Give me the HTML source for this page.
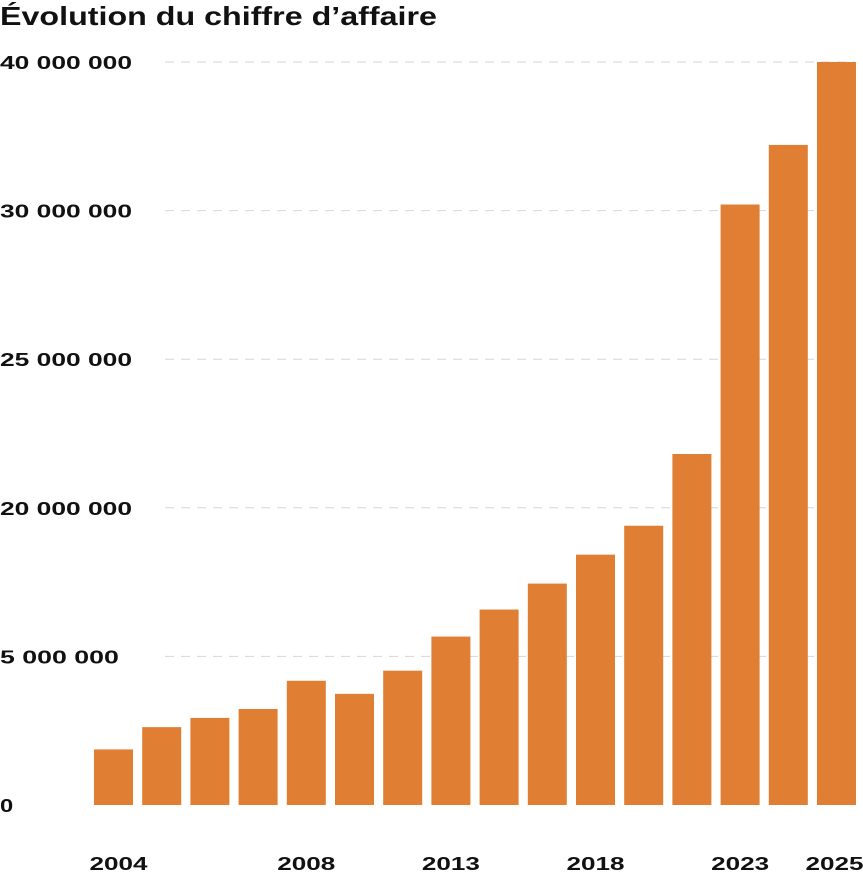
<!DOCTYPE html>
<html><head><meta charset="utf-8"><style>
body{margin:0;background:#fff;font-family:"Liberation Sans",sans-serif}
svg{display:block}
</style></head><body>
<svg id="c" width="863" height="881">
<text x="0" y="25" font-size="26" font-weight="bold" fill="#111" textLength="437" lengthAdjust="spacingAndGlyphs">Évolution du chiffre d’affaire</text>
</svg>
<script>
const tickValues=[0,5000000,20000000,25000000,30000000,40000000];
const tickLabels=["0","5 000 000","20 000 000","25 000 000","30 000 000","40 000 000"];
const barLabels=["2004","","","","2008","","","2013","","","2018","","","2023","","2025"];
const barValues=[1870000,2620000,2930000,3230000,4180000,3740000,4520000,7000000,9730000,12350000,15270000,18190000,21810000,30410000,34420000,40000000];
const ns="http://www.w3.org/2000/svg",svg=document.getElementById('c');
const y0=805,yStep=148.6,xStart=94,step=48.2,bw=39;
function yScale(v){
  for(let i=0;i<tickValues.length-1;i++){
    if(v<=tickValues[i+1]||i==tickValues.length-2){
      const t=(v-tickValues[i])/(tickValues[i+1]-tickValues[i]);
      return y0-(i+t)*yStep;
    }
  }
}
function xScale(i){return xStart+i*step;}
function mk(tag,attrs){const e=document.createElementNS(ns,tag);for(const k in attrs)e.setAttribute(k,attrs[k]);svg.appendChild(e);return e;}
tickValues.forEach((v,i)=>{
  const y=yScale(v);
  if(i>0){const l=mk('line',{x1:165,x2:855,y1:y,y2:y,stroke:'#d6d6d6','stroke-width':1,'stroke-dasharray':'9,7'});
  
  }
  const lab=tickLabels[i];
  const t=mk('text',{x:0,y:y+7,'font-size':18,'font-weight':'bold',fill:'#111',textLength:lab.length*13.2,lengthAdjust:'spacingAndGlyphs'});
  t.textContent=lab;
  
  
});
barValues.forEach((v,i)=>{
  const y=yScale(v);
  const r=mk('rect',{x:xScale(i),y:y,width:bw,height:y0-y,fill:'#E07F33'});
  
  
  if(barLabels[i]){
    const cx=xScale(i)+bw/2+(i==0?5:0)+(i==15?-2:0);
    const t=mk('text',{x:cx-29,y:870,'font-size':18,'font-weight':'bold',fill:'#111',textLength:58,lengthAdjust:'spacingAndGlyphs'});
    t.textContent=barLabels[i];
    
    
  }
});
</script>
</body></html>
